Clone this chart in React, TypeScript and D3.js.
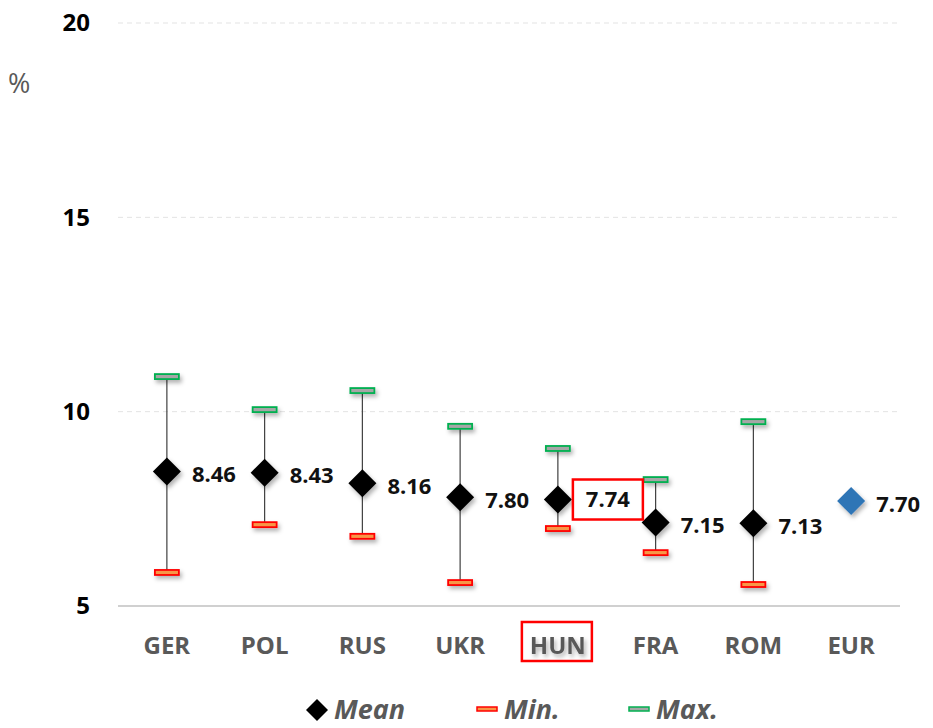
import React from "react";
import * as d3 from "d3";

const categories = ["GER", "POL", "RUS", "UKR", "HUN", "FRA", "ROM", "EUR"];
const meanValues = [8.46, 8.43, 8.16, 7.8, 7.74, 7.15, 7.13, 7.7];
const minValues: (number | null)[] = [5.85, 7.08, 6.78, 5.59, 6.98, 6.36, 5.54, null];
const maxValues: (number | null)[] = [10.89, 10.04, 10.53, 9.61, 9.04, 8.24, 9.73, null];
const meanLabels = ["8.46", "8.43", "8.16", "7.80", "7.74", "7.15", "7.13", "7.70"];
const yTicks = [5, 10, 15, 20];
const highlighted = "HUN";
const reference = "EUR";

const W = 933;
const H = 728;
const FONT = "'Open Sans', 'DejaVu Sans', sans-serif";

export default function App() {
  const x = d3.scaleBand<string>().domain(categories).range([118, 900]);
  const y = d3.scaleLinear().domain([5, 20]).range([606, 23]);
  const cx = (c: string) => (x(c) as number) + x.bandwidth() / 2;
  const diamond = (s: number) => `M0,${-s}L${s},0L0,${s}L${-s},0Z`;

  return (
    <svg width={W} height={H} style={{ position: "absolute", left: 0, top: 0, background: "#fff" }}>
      <defs>
        <filter id="sh" x="-50%" y="-50%" width="200%" height="200%">
          <feDropShadow dx="2" dy="3" stdDeviation="2" floodColor="#000" floodOpacity="0.3" />
        </filter>
      </defs>
      {/* gridlines */}
      {yTicks.map((t) => (
        <line
          key={t}
          x1={118}
          x2={900}
          y1={y(t)}
          y2={y(t)}
          stroke={t === 5 ? "#d0d0d0" : "#e3e3e3"}
          strokeWidth={t === 5 ? 2 : 1}
          strokeDasharray={t === 5 ? undefined : "5,4"}
        />
      ))}
      {yTicks.map((t) => (
        <text
          key={"l" + t}
          x={90}
          y={y(t)}
          dy="0.35em"
          textAnchor="end"
          fontFamily={FONT}
          fontWeight="bold"
          fontSize={24}
          fill="#000"
        >
          {t}
        </text>
      ))}
      <text x={8} y={93} fontFamily={FONT} fontSize={27} fill="#595959">
        %
      </text>
      {/* category labels */}
      {categories.map((c) => (
        <g key={"c" + c}>
          {c === highlighted && (
            <rect x={cx(c) - 36} y={622} width={70} height={39} fill="none" stroke="#ff0000" strokeWidth={2.5} />
          )}
          <text
            x={cx(c)}
            y={654}
            textAnchor="middle"
            fontFamily={FONT}
            fontWeight="bold"
            fontSize={24}
            fill="#595959"
            filter={c === highlighted ? "url(#sh)" : undefined}
          >
            {c}
          </text>
        </g>
      ))}
      {/* whiskers */}
      {categories.map((c, i) => {
        const mn = minValues[i];
        const mx = maxValues[i];
        if (mn == null || mx == null) return null;
        return (
          <line key={"w" + c} x1={cx(c)} x2={cx(c)} y1={y(mx)} y2={y(mn)} stroke="#404040" strokeWidth={1.2} />
        );
      })}
      {/* caps */}
      {categories.map((c, i) => {
        const mn = minValues[i];
        const mx = maxValues[i];
        if (mn == null || mx == null) return null;
        return (
          <g key={"cap" + c} filter="url(#sh)">
            <rect x={cx(c) - 12} y={y(mx) - 3} width={24} height={5} fill="#a6a6a6" stroke="#00b050" strokeWidth={1.8} />
            <rect x={cx(c) - 12} y={y(mn) - 3} width={24} height={5} fill="#f79646" stroke="#ff0000" strokeWidth={1.8} />
          </g>
        );
      })}
      {/* means */}
      {categories.map((c, i) => (
        <path
          key={"m" + c}
          d={diamond(14)}
          transform={`translate(${cx(c)},${y(meanValues[i])})`}
          fill={c === reference ? "#2e75b6" : "#000"}
          filter="url(#sh)"
        />
      ))}
      {/* mean labels */}
      {categories.map((c, i) => {
        const isH = c === highlighted;
        const lx = isH ? cx(c) + 50 : cx(c) + 25;
        const ly = y(meanValues[i]) + (isH ? 0 : 3);
        return (
          <g key={"ml" + c}>
            {isH && (
              <rect x={cx(c) + 15} y={ly - 20} width={70} height={40} fill="#fff" stroke="#ff0000" strokeWidth={2.5} />
            )}
            <text
              x={lx}
              y={ly}
              dy="0.35em"
              textAnchor={isH ? "middle" : "start"}
              fontFamily={FONT}
              fontWeight="bold"
              fontSize={22}
              fill="#111"
            >
              {meanLabels[i]}
            </text>
          </g>
        );
      })}
      {/* legend */}
      <g fontFamily={FONT} fontWeight="bold" fontStyle="italic" fontSize={27} fill="#595959">
        <path d={diamond(11)} transform="translate(317,710)" fill="#000" />
        <text x={334} y={710} dy="0.35em">Mean</text>
        <rect x={477} y={707} width={20} height={4} fill="#f79646" stroke="#ff0000" strokeWidth={1.5} />
        <text x={504} y={710} dy="0.35em">Min.</text>
        <rect x={629} y={707} width={20} height={4} fill="#a6a6a6" stroke="#00b050" strokeWidth={1.5} />
        <text x={656} y={710} dy="0.35em">Max.</text>
      </g>
    </svg>
  );
}
